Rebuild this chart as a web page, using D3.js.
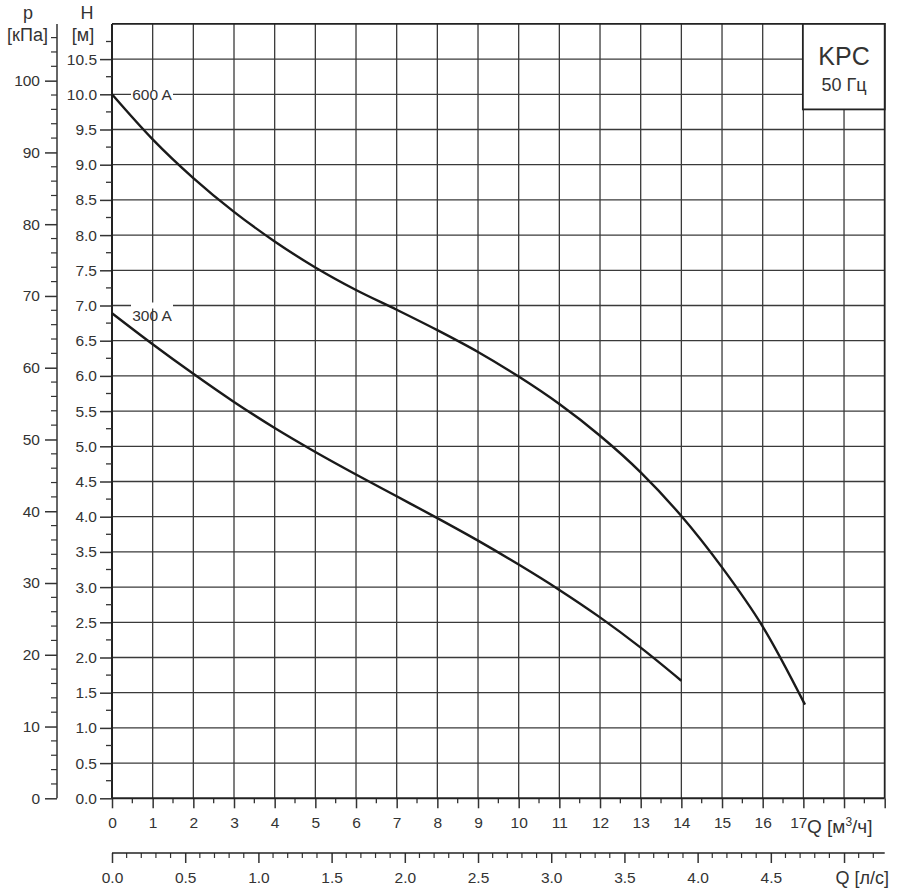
<!DOCTYPE html>
<html><head><meta charset="utf-8">
<script src="https://cdn.jsdelivr.net/npm/d3@7"></script>
<style>
html,body{margin:0;padding:0;background:#fff;}
svg text{font-family:"Liberation Sans",Arial,sans-serif;fill:#333;}
</style></head>
<body>
<svg id="c" width="897" height="893"></svg>
<script>
// ---- data ----
const q600 = [0,1,2,3,4,5,6,7,8,9,10,11,12,13,14,15,16,17.04];
const h600 = [10.0,9.36,8.81,8.33,7.91,7.54,7.22,6.94,6.65,6.34,5.99,5.60,5.15,4.63,4.01,3.28,2.44,1.33];
const q300 = [0,1,2,3,4,5,6,7,8,9,10,11,12,13,14];
const h300 = [6.89,6.45,6.03,5.63,5.26,4.92,4.60,4.29,3.98,3.66,3.32,2.96,2.57,2.14,1.67];
const curveNames = ["600 A","300 A"];
const hTicks = d3.range(0, 10.51, 0.5);          // м
const pTicks = d3.range(0, 100.1, 10);           // кПа
const qTicks = d3.range(0, 17.1, 1);             // м³/ч
const lsTicks = d3.range(0, 4.51, 0.5);          // л/с
const boxTitle = "KPC", boxSub = "50 Гц";

// ---- layout ----
const svg = d3.select("#c");
const x = d3.scaleLinear().domain([0,19]).range([112,884.7]);
const y = d3.scaleLinear().domain([0,11]).range([798.3,23.9]);
const ls = d3.scaleLinear().domain([0,19/3.6]).range([112,884.7]);
const gridCol = "#3a3a3a";
const FS = 15.5;

// grid
const g = svg.append("g");
g.selectAll(".vg").data(d3.range(1,19,1)).join("line")
  .attr("x1",d=>x(d)).attr("x2",d=>x(d)).attr("y1",y(0)).attr("y2",y(11))
  .attr("stroke",gridCol).attr("stroke-width",1.3);
g.selectAll(".hg").data(d3.range(0.5,10.51,0.5)).join("line")
  .attr("y1",d=>y(d)).attr("y2",d=>y(d)).attr("x1",x(0)).attr("x2",x(19))
  .attr("stroke",gridCol).attr("stroke-width",1.3);
// frame
svg.append("path").attr("d",`M${x(0)},${y(11)}H${x(19)}V${y(0)}`).attr("fill","none")
  .attr("stroke","#222").attr("stroke-width",1.8);

// H axis (left)
const hAxis = d3.axisLeft(y).tickValues(hTicks).tickFormat(d3.format(".1f")).tickSize(12).tickPadding(3);
const ha = svg.append("g").attr("transform",`translate(${x(0)},0)`).call(hAxis);
ha.select(".domain").remove();
ha.append("line").attr("x1",0).attr("x2",0).attr("y1",y(0)).attr("y2",y(11)).attr("stroke","#222").attr("stroke-width",2);
ha.selectAll(".minor").data(d3.range(0.25,11,0.5)).join("line")
  .attr("x1",-6).attr("x2",0).attr("y1",d=>y(d)).attr("y2",d=>y(d)).attr("stroke","#333").attr("stroke-width",1.3);

// pressure axis
const pScale = d3.scaleLinear().domain([0,11*9.81]).range([798.3,23.9]);
const pAxis = d3.axisLeft(pScale).tickValues(pTicks).tickFormat(d3.format("d")).tickSize(12).tickPadding(5);
const pa = svg.append("g").attr("transform","translate(57,0)").call(pAxis);
pa.select(".domain").remove();
pa.append("line").attr("x1",0).attr("x2",0).attr("y1",pScale(0)).attr("y2",y(11)).attr("stroke","#333").attr("stroke-width",1.5);
pa.selectAll(".minor").data(d3.range(2,107,2).filter(d=>d%10!==0)).join("line")
  .attr("x1",-6).attr("x2",0).attr("y1",d=>pScale(d)).attr("y2",d=>pScale(d)).attr("stroke","#333").attr("stroke-width",1.2);

// Q m3/h axis
const qAxis = d3.axisBottom(x).tickValues(qTicks.concat([18,19])).tickFormat(d=>d<=17?d:"").tickSize(10).tickPadding(9);
const qa = svg.append("g").attr("transform",`translate(0,${y(0)})`).call(qAxis);
qa.select(".domain").remove();
qa.selectAll(".minor").data(d3.range(0.5,19,1)).join("line")
  .attr("y1",0).attr("y2",5).attr("x1",d=>x(d)).attr("x2",d=>x(d)).attr("stroke","#333").attr("stroke-width",1.3);
qa.append("line").attr("x1",x(0)).attr("x2",x(19)).attr("stroke","#222").attr("stroke-width",2);

// Q l/s axis
const lsAxis = d3.axisBottom(ls).tickValues(lsTicks.concat([5.0])).tickFormat(d=>d<=4.5?d3.format(".1f")(d):"").tickSize(10).tickPadding(9);
const la = svg.append("g").attr("transform","translate(0,853)").call(lsAxis);
la.select(".domain").remove();
la.selectAll(".minor").data(d3.range(0.1,5.25,0.1).filter(d=>Math.abs(d*2-Math.round(d*2))>0.01)).join("line")
  .attr("y1",0).attr("y2",5).attr("x1",d=>ls(d)).attr("x2",d=>ls(d)).attr("stroke","#333").attr("stroke-width",1.2);
la.append("line").attr("x1",ls(0)).attr("x2",x(19)).attr("stroke","#222").attr("stroke-width",1.6);

svg.selectAll(".tick line").attr("stroke","#333").attr("stroke-width",1.5);
svg.selectAll(".tick text").attr("font-size",FS).attr("font-family",'"Liberation Sans",Arial,sans-serif').attr("fill","#333");
// label 17 sits slightly left (as in reference)
qa.selectAll(".tick text").filter(d=>d===17).attr("dx",-5);

// axis titles
const T = (tx,ty,s,anchor,size)=>svg.append("text").attr("x",tx).attr("y",ty).attr("text-anchor",anchor||"middle").attr("font-size",size||FS).text(s);
T(28,19,"p","middle",18);
T(27.5,41,"[кПа]","middle",18);
T(87,19,"H","middle",18);
T(83,41,"[м]","middle",18);
const qt = svg.append("text").attr("x",807).attr("y",833).attr("font-size",19);
qt.append("tspan").text("Q\u00a0[м");
qt.append("tspan").attr("font-size",12).attr("dy",-7).text("3");
qt.append("tspan").attr("dy",7).text("/ч]");
T(889,884,"Q [л/с]","end",18);

// curves
const line = d3.line().x(d=>x(d[0])).y(d=>y(d[1])).curve(d3.curveCatmullRom.alpha(0.5));
const c600 = q600.map((q,i)=>[q,h600[i]]);
const c300 = q300.map((q,i)=>[q,h300[i]]);
svg.append("path").attr("d",line(c600)).attr("fill","none").attr("stroke","#1a1a1a").attr("stroke-width",2.4);
svg.append("path").attr("d",line(c300)).attr("fill","none").attr("stroke","#1a1a1a").attr("stroke-width",2.4);

// curve labels
svg.append("rect").attr("x",131).attr("y",y(h600[0])-4).attr("width",42).attr("height",8).attr("fill","#fff");
T(152,y(h600[0])+5.5,curveNames[0],"middle",15.5);
svg.append("rect").attr("x",131).attr("y",y(7.0)-3).attr("width",42).attr("height",6).attr("fill","#fff");
T(152,y(7.0)+15,curveNames[1],"middle",15.5);

// KPC box
svg.append("rect").attr("x",x(17)-0.5).attr("y",y(11)).attr("width",x(19)-x(17)+0.5).attr("height",85.5)
  .attr("fill","#fff").attr("stroke","#222").attr("stroke-width",1.8);
T((x(17)+x(19))/2,65,boxTitle,"middle",25);
T((x(17)+x(19))/2,91,boxSub,"middle",18);
</script>
</body></html>
